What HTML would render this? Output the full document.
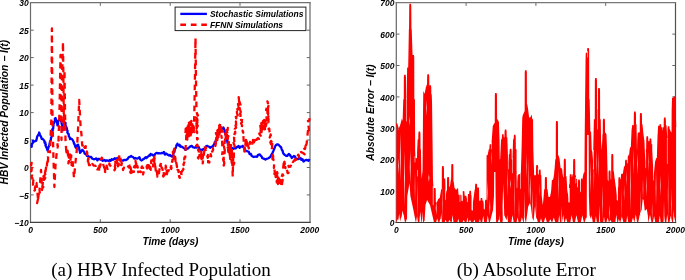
<!DOCTYPE html><html><head><meta charset="utf-8"><title>HBV simulations</title>
<style>html,body{margin:0;padding:0;background:#fff}svg{display:block}text{font-family:"Liberation Sans",Arial,sans-serif;fill:#000}.t{font-size:8.5px;font-weight:bold;font-style:italic}.l{font-size:10.1px;font-weight:bold;font-style:italic}.c{font-family:"Liberation Serif","Times New Roman",serif;font-size:19px}</style></head><body>
<svg width="685" height="280" viewBox="0 0 685 280">
<rect width="685" height="280" fill="#fff"/>
<g id="left">
<path d="M100.3 222.4v-3.2M100.3 2.7v3.2M170.2 222.4v-3.2M170.2 2.7v3.2M240.0 222.4v-3.2M240.0 2.7v3.2M30.5 30.2h3.2M310.0 30.2h-3.2M30.5 57.6h3.2M310.0 57.6h-3.2M30.5 85.1h3.2M310.0 85.1h-3.2M30.5 112.6h3.2M310.0 112.6h-3.2M30.5 140.0h3.2M310.0 140.0h-3.2M30.5 167.5h3.2M310.0 167.5h-3.2M30.5 194.9h3.2M310.0 194.9h-3.2" stroke="#555" stroke-width="0.9" fill="none"/>
<path d="M30.50 2.1V223.0" stroke="#6a6a6a" stroke-width="1.2"/>
<path d="M310.00 2.1V223.0" stroke="#666" stroke-width="1.2"/>
<path d="M29.9 2.70H310.6" stroke="#707070" stroke-width="1.2"/>
<path d="M29.9 222.40H310.6" stroke="#404040" stroke-width="1.2"/>
<path d="M31.0 147.5 L31.7 146.8 L31.7 145.1 L31.8 145.1 L32.0 143.7 L32.7 143.3 L32.8 142.5 L33.1 140.7 L34.5 141.5 L36.2 140.7 L36.5 139.7 L36.9 137.9 L37.2 136.5 L37.6 136.0 L38.1 135.2 L39.0 133.4 L39.2 132.5 L39.5 133.7 L40.0 134.9 L40.5 136.0 L41.0 136.7 L41.7 138.8 L42.3 138.6 L43.4 139.7 L44.3 140.7 L44.6 142.8 L45.3 142.3 L45.2 142.8 L45.9 144.9 L45.4 145.0 L46.1 146.9 L46.5 147.3 L46.8 148.6 L47.3 149.2 L47.4 150.4 L47.8 150.1 L48.3 148.0 L48.4 147.4 L49.0 146.0 L49.5 144.7 L49.5 143.8 L49.9 142.9 L49.9 141.8 L50.5 140.7 L50.7 140.6 L51.0 138.0 L51.1 137.6 L51.6 136.9 L51.7 135.6 L51.5 135.4 L51.9 132.8 L52.0 132.0 L52.2 129.9 L52.7 130.5 L52.4 129.0 L53.1 128.8 L53.3 126.8 L53.5 125.3 L53.6 123.3 L54.4 122.6 L54.4 121.8 L54.8 121.1 L55.0 120.5 L54.8 118.5 L55.6 118.2 L55.9 119.3 L56.2 120.9 L56.5 120.9 L56.6 121.4 L57.1 122.7 L57.4 125.4 L57.6 125.3 L57.9 124.9 L58.1 123.3 L58.0 122.0 L58.5 120.4 L59.0 120.0 L59.5 119.5 L60.1 118.8 L60.3 117.2 L60.7 118.2 L60.8 120.6 L61.0 121.3 L61.3 121.0 L61.5 123.0 L61.7 123.6 L61.9 124.9 L62.4 125.0 L62.1 128.0 L62.4 127.8 L62.6 129.7 L62.7 130.4 L62.6 129.6 L63.4 127.8 L63.2 127.5 L63.5 125.9 L64.2 124.8 L64.5 124.2 L64.3 123.4 L64.8 122.3 L65.6 123.1 L65.4 124.2 L65.9 126.5 L66.3 127.0 L66.8 128.1 L66.9 128.2 L66.9 129.7 L67.6 130.9 L67.3 132.3 L67.9 133.5 L68.7 134.0 L68.8 136.4 L69.5 137.0 L70.1 139.2 L70.9 138.6 L71.9 139.0 L73.0 140.7 L73.8 142.3 L73.9 143.5 L74.5 144.0 L74.6 144.6 L75.1 145.9 L75.4 147.0 L76.0 147.8 L76.6 146.5 L77.2 145.1 L78.1 144.7 L78.2 145.2 L78.6 147.1 L78.9 147.0 L79.3 149.0 L79.3 149.7 L79.6 150.5 L79.9 152.2 L80.1 152.9 L80.9 151.8 L81.5 151.0 L82.2 149.9 L82.8 150.2 L83.3 150.9 L84.4 152.4 L84.6 153.7 L85.2 153.9 L86.2 154.4 L87.0 155.9 L87.7 155.7 L88.4 156.2 L89.3 157.0 L90.3 157.0 L91.1 156.8 L92.2 158.7 L93.4 159.0 L94.2 159.3 L95.5 158.8 L96.3 158.4 L97.4 160.4 L98.5 159.0 L99.4 158.9 L100.6 159.7 L101.6 160.0 L102.8 160.8 L103.6 160.3 L104.4 160.0 L105.7 161.0 L106.8 160.3 L107.8 160.6 L108.7 160.8 L109.7 160.0 L110.6 160.9 L111.7 159.1 L112.8 159.9 L113.8 159.0 L114.9 158.3 L115.8 159.1 L117.1 158.1 L117.9 158.0 L119.1 159.2 L120.0 158.9 L121.0 160.0 L121.7 160.2 L123.0 160.7 L124.4 159.8 L124.9 160.1 L126.0 160.0 L127.0 159.3 L127.7 159.1 L128.5 157.5 L129.3 156.9 L130.3 156.7 L131.2 156.0 L131.8 156.7 L132.7 156.8 L133.7 157.8 L134.3 158.6 L135.4 157.9 L136.1 158.3 L137.4 158.6 L138.4 158.0 L139.5 157.3 L140.3 159.5 L141.4 160.5 L142.4 160.0 L143.5 158.9 L144.2 158.8 L145.5 157.3 L146.5 158.0 L147.4 156.8 L148.1 156.6 L149.3 155.2 L149.9 155.7 L150.6 153.9 L151.5 154.4 L152.9 155.1 L153.7 156.0 L154.4 155.5 L155.2 153.8 L156.0 153.2 L156.7 152.9 L157.9 153.4 L158.7 153.2 L160.1 153.3 L160.8 153.3 L161.6 153.0 L162.9 153.2 L163.9 151.9 L164.9 154.6 L166.0 153.5 L167.1 154.2 L168.2 155.0 L169.1 155.6 L169.9 155.0 L171.2 156.1 L172.3 156.6 L173.0 155.3 L173.2 155.1 L173.5 153.4 L173.8 152.6 L174.3 152.1 L174.6 150.9 L174.8 149.0 L175.3 148.8 L175.7 148.0 L176.2 146.3 L176.4 145.2 L176.9 145.2 L177.4 143.7 L178.2 145.3 L179.1 145.7 L179.6 144.8 L180.4 146.8 L181.4 146.4 L182.7 147.4 L183.5 147.8 L184.8 148.8 L185.5 149.9 L186.5 148.9 L187.7 148.6 L188.6 147.8 L189.5 147.1 L190.4 146.3 L191.7 145.8 L192.8 147.2 L193.7 147.4 L194.7 147.8 L195.7 147.1 L196.6 147.6 L197.8 146.8 L198.8 147.1 L199.4 149.2 L200.2 149.4 L200.9 149.9 L201.8 150.3 L203.0 149.2 L203.9 148.8 L204.6 148.9 L205.4 147.4 L206.1 146.2 L207.0 145.8 L208.2 146.5 L209.0 146.7 L210.1 147.8 L211.2 146.9 L211.9 146.9 L213.1 145.8 L213.6 145.0 L214.2 144.2 L214.8 142.1 L215.4 141.7 L216.2 140.7 L216.6 139.8 L217.0 138.7 L217.2 138.1 L217.7 136.6 L218.2 134.4 L218.4 134.1 L218.9 133.3 L219.3 132.5 L220.4 131.6 L221.3 130.4 L222.1 129.0 L222.6 128.6 L223.4 127.4 L223.9 128.4 L224.2 129.7 L224.5 130.5 L224.8 132.7 L225.0 132.5 L225.5 132.6 L225.3 134.2 L225.8 134.3 L226.1 137.2 L226.4 137.4 L226.3 138.6 L226.7 139.7 L227.0 140.7 L227.4 140.5 L227.4 142.7 L228.1 143.4 L228.7 144.3 L229.0 145.7 L230.0 147.0 L230.5 147.8 L231.2 147.5 L232.4 148.1 L233.6 148.8 L234.6 148.2 L235.7 148.4 L236.6 146.8 L237.7 147.0 L238.5 145.9 L239.7 147.8 L240.7 146.6 L241.8 146.6 L242.8 145.8 L243.3 147.3 L244.0 148.0 L244.7 148.9 L245.2 149.7 L245.8 150.9 L247.0 151.2 L247.9 151.5 L248.9 151.9 L249.6 154.1 L250.3 153.8 L250.9 153.8 L251.5 155.6 L252.0 156.0 L253.2 156.7 L253.9 157.0 L255.0 156.7 L256.1 156.6 L257.1 156.8 L258.1 154.9 L259.3 154.5 L260.1 154.6 L260.4 155.5 L261.7 156.7 L262.2 158.0 L263.1 158.4 L264.3 158.9 L265.4 159.6 L266.3 159.0 L267.2 158.7 L268.4 158.2 L269.4 157.5 L270.4 157.0 L271.0 155.3 L271.5 155.0 L271.9 153.9 L272.5 153.1 L273.0 151.7 L273.4 150.9 L273.9 149.5 L274.0 148.9 L274.5 148.5 L274.9 146.9 L275.5 145.8 L276.6 144.5 L277.2 144.3 L278.5 144.7 L279.3 145.6 L280.6 146.8 L281.3 147.7 L281.5 148.6 L282.0 150.1 L282.6 150.8 L282.9 151.8 L283.0 152.9 L283.7 153.9 L284.7 154.8 L285.8 155.7 L286.7 156.0 L287.4 155.8 L288.8 153.9 L289.3 154.4 L290.1 155.1 L290.6 156.3 L291.0 156.3 L291.8 158.0 L292.8 157.0 L293.9 156.0 L294.7 156.4 L295.3 157.3 L296.1 159.2 L297.0 159.0 L298.1 159.0 L298.9 158.9 L300.0 158.0 L300.9 158.3 L301.4 159.9 L302.5 159.2 L303.5 161.5 L304.7 160.5 L306.0 160.0 L307.0 159.9 L308.5 160.8 L309.5 159.0" fill="none" stroke="#0000ff" stroke-width="2.3" stroke-linejoin="round"/>
<path d="M31.0 162.0 L31.7 163.3 L31.7 162.8 L31.1 165.1 L31.4 170.0 L31.8 167.8 L31.5 171.0 L31.1 171.3 L31.5 170.8 L31.0 170.4 L31.8 171.1 L32.0 175.0 L31.9 175.8 L31.5 177.3 L32.5 178.2 L32.0 180.7 L31.5 179.9 L31.5 180.8 L33.3 180.4 L33.3 180.1 L33.0 185.0 L33.3 186.8 L34.3 188.3 L34.4 190.5 L35.0 190.0 L34.9 187.8 L35.5 186.0 L36.3 185.2 L35.4 182.2 L35.2 182.5 L36.5 183.0 L38.2 201.0 L37.1 203.1 L38.2 198.3 L37.6 200.5 L38.3 198.4 L38.5 195.2 L38.4 195.5 L39.3 193.2 L38.0 195.3 L39.9 193.7 L39.5 190.0 L41.0 170.0 L42.0 190.0 L42.4 188.1 L43.3 187.0 L42.6 187.0 L42.8 185.2 L42.7 184.1 L42.4 186.8 L43.5 176.1 L44.0 180.9 L44.0 180.0 L44.1 178.6 L44.9 178.4 L44.4 176.0 L45.0 178.9 L46.1 172.9 L44.8 174.8 L45.4 170.4 L44.9 169.9 L45.4 168.0 L45.6 171.0 L46.0 168.0 L46.6 164.4 L47.0 165.8 L46.8 166.6 L47.1 163.2 L47.8 160.4 L47.8 163.5 L48.0 160.0 L48.1 158.5 L48.0 156.5 L48.2 156.0 L48.1 154.8 L49.1 155.0 L48.2 151.4 L50.1 152.2 L49.5 149.9 L50.0 150.0 L51.3 120.0 L51.9 28.4 L52.5 120.0 L53.5 160.0 L54.4 187.0 L55.5 165.0 L57.0 150.0 L57.5 147.9 L57.8 146.2 L58.0 146.2 L57.5 145.6 L57.5 141.9 L58.3 142.9 L57.8 142.6 L58.8 141.8 L58.5 140.0 L59.5 110.0 L60.5 55.0 L61.2 100.0 L61.5 140.0 L62.0 80.0 L63.0 42.0 L63.5 90.0 L64.0 130.0 L64.5 70.0 L65.0 110.0 L65.5 140.0 L66.5 155.0 L66.4 153.6 L67.2 152.0 L66.5 152.4 L66.9 151.0 L68.0 147.9 L67.5 148.0 L68.5 163.0 L68.3 163.3 L69.1 160.9 L68.9 158.6 L68.2 159.7 L69.6 158.1 L68.7 157.3 L69.1 155.8 L70.0 155.2 L69.5 153.5 L70.0 152.0 L70.6 152.2 L70.5 152.8 L70.3 156.4 L70.6 160.8 L69.7 161.6 L71.3 155.3 L70.8 161.4 L70.1 161.4 L70.7 161.6 L71.8 163.4 L71.5 165.0 L71.9 163.8 L71.8 161.3 L72.1 161.4 L72.5 160.0 L74.0 178.0 L75.5 162.0 L77.0 148.0 L78.0 130.0 L79.2 100.0 L80.5 125.0 L82.0 140.0 L82.0 143.4 L82.3 145.6 L82.8 145.4 L83.7 147.6 L84.0 146.0 L84.8 147.9 L84.3 147.3 L85.8 146.2 L85.3 149.6 L86.0 152.0 L87.3 153.1 L86.8 151.4 L87.3 154.8 L87.1 153.6 L88.5 159.3 L88.0 159.0 L87.8 162.9 L88.4 161.6 L88.0 160.4 L89.1 165.2 L89.9 164.9 L89.5 166.4 L90.7 163.9 L91.4 164.8 L92.4 164.0 L93.6 165.6 L94.6 165.6 L95.8 165.8 L96.8 165.0 L97.1 169.4 L98.0 169.0 L98.5 167.8 L99.2 168.1 L99.0 170.7 L99.0 168.2 L99.9 168.9 L100.1 168.7 L99.4 165.7 L100.3 165.8 L100.8 162.1 L100.1 162.8 L100.1 162.1 L101.2 158.7 L101.2 159.0 L101.7 157.6 L102.5 159.1 L102.6 161.4 L102.8 161.2 L103.4 165.0 L104.2 167.8 L105.0 164.2 L104.9 169.9 L105.2 172.0 L106.3 170.7 L107.3 169.5 L107.8 170.8 L106.7 165.7 L107.3 167.2 L107.8 165.3 L109.3 166.2 L109.3 163.4 L110.0 165.5 L110.6 165.9 L111.5 167.0 L112.7 168.8 L113.7 169.3 L113.8 168.9 L114.5 170.2 L115.3 168.2 L114.1 163.2 L115.1 165.7 L115.5 162.6 L115.3 161.5 L116.0 160.0 L116.6 159.0 L115.6 160.2 L117.2 162.9 L116.9 159.8 L117.9 164.0 L118.5 165.2 L118.0 166.4 L117.7 165.3 L118.8 163.1 L119.0 162.1 L119.1 163.7 L118.9 162.6 L118.9 159.8 L118.6 157.7 L119.1 156.7 L119.9 154.1 L120.0 155.4 L120.0 157.4 L120.9 160.1 L120.3 160.8 L121.0 157.7 L121.3 161.9 L121.8 163.3 L121.7 163.3 L121.5 165.0 L120.7 164.7 L123.0 166.7 L123.1 165.9 L123.0 170.0 L123.8 167.7 L125.0 167.8 L126.3 168.6 L127.3 169.3 L128.1 166.4 L129.2 167.6 L129.5 165.6 L130.6 165.5 L131.3 171.2 L130.4 166.8 L130.8 167.1 L130.3 172.4 L131.2 170.0 L131.0 174.9 L131.7 175.0 L130.9 173.4 L132.7 171.5 L133.9 171.8 L132.4 168.5 L134.0 169.3 L133.9 169.0 L134.7 167.6 L135.3 167.0 L133.9 167.2 L135.9 163.7 L135.5 162.0 L135.0 161.5 L135.4 160.5 L136.2 164.4 L136.4 162.4 L135.9 161.8 L136.5 166.8 L136.8 166.4 L137.3 165.8 L138.1 169.3 L137.6 171.5 L137.9 170.2 L138.3 172.2 L140.1 171.5 L140.5 171.5 L141.6 172.9 L141.1 169.6 L141.4 169.2 L142.0 166.4 L141.4 167.9 L143.2 167.9 L141.9 168.0 L143.8 170.5 L143.0 174.4 L143.4 173.0 L144.1 171.0 L144.9 169.0 L145.6 169.3 L147.0 168.5 L146.6 166.7 L147.6 165.0 L147.6 163.2 L148.5 163.4 L149.7 166.2 L148.8 165.3 L149.1 167.9 L150.2 166.9 L149.4 167.7 L150.0 170.7 L149.7 168.4 L150.6 168.0 L150.8 169.8 L150.0 166.2 L150.4 164.9 L151.5 163.7 L151.1 163.1 L151.3 160.4 L151.5 160.5 L151.3 161.9 L152.5 162.0 L152.2 161.2 L153.5 163.2 L153.0 166.4 L153.4 166.3 L153.4 164.8 L152.5 163.4 L153.7 162.2 L154.0 158.2 L152.9 160.6 L153.6 157.5 L154.1 156.3 L154.0 156.0 L154.0 155.0 L154.6 158.6 L154.3 159.5 L153.5 161.7 L154.5 163.2 L154.6 160.6 L153.9 160.8 L155.1 165.0 L154.9 165.6 L155.1 168.6 L155.3 166.3 L156.0 172.6 L155.7 169.8 L156.3 170.1 L157.2 173.8 L157.0 176.2 L156.6 174.3 L157.3 176.6 L157.1 171.5 L157.9 174.9 L157.7 173.6 L158.9 173.3 L159.3 170.6 L159.5 169.3 L159.5 164.3 L160.9 165.3 L160.0 165.3 L160.0 165.9 L160.4 165.6 L161.0 162.0 L160.8 163.1 L160.4 165.8 L161.3 166.8 L161.4 167.0 L162.3 168.5 L162.5 169.3 L162.8 171.4 L163.4 172.5 L162.4 171.9 L163.5 171.5 L163.9 174.1 L163.0 175.9 L164.7 178.5 L163.9 178.0 L163.6 176.6 L164.7 174.3 L164.2 173.6 L164.6 174.7 L164.4 172.6 L165.0 170.2 L165.3 170.4 L165.4 168.1 L165.4 168.7 L166.1 167.7 L165.7 165.6 L165.9 167.1 L166.2 166.3 L166.1 168.9 L166.7 168.8 L166.8 175.7 L167.0 172.7 L166.9 173.7 L167.5 171.6 L167.6 170.4 L168.6 170.8 L169.0 169.3 L169.3 170.2 L170.5 171.5 L170.1 170.8 L170.7 170.4 L171.5 167.9 L170.6 167.7 L171.6 165.1 L170.4 162.5 L171.8 163.1 L172.0 162.0 L172.2 161.6 L172.4 160.0 L172.6 161.0 L172.3 158.5 L172.5 158.4 L171.6 156.7 L172.8 154.7 L173.6 152.4 L173.0 152.8 L174.1 150.1 L173.6 151.2 L173.4 148.8 L174.2 148.6 L173.4 151.9 L172.8 151.9 L173.2 154.3 L173.6 155.7 L174.1 154.3 L173.5 156.9 L174.4 157.5 L173.5 158.3 L173.8 159.4 L174.4 159.9 L174.5 162.0 L174.6 160.7 L175.1 156.8 L175.0 158.1 L176.4 157.5 L175.6 156.0 L174.9 154.9 L175.4 159.5 L175.5 161.5 L176.5 159.6 L176.5 163.1 L176.3 163.4 L176.4 163.0 L177.0 167.0 L176.9 166.0 L177.5 168.5 L176.9 168.0 L177.1 169.3 L178.7 171.0 L178.4 172.0 L178.5 170.1 L177.8 171.5 L178.6 173.9 L179.2 176.5 L179.3 177.3 L179.5 176.4 L180.2 179.1 L181.4 174.6 L180.8 172.2 L181.8 175.2 L182.2 175.0 L183.3 174.4 L182.0 171.0 L181.7 171.9 L183.4 169.2 L183.1 168.7 L182.6 169.5 L183.0 167.7 L183.4 164.3 L183.7 165.0 L183.7 163.7 L184.7 161.4 L184.7 163.2 L184.2 159.9 L184.4 157.5 L185.2 157.6 L186.0 140.0 L186.5 139.2 L186.1 139.1 L186.3 135.8 L186.5 135.4 L186.0 136.5 L185.3 136.3 L185.7 128.6 L186.4 128.7 L186.2 132.7 L186.6 128.0 L186.5 131.0 L186.2 130.5 L186.8 135.2 L188.0 131.4 L187.1 133.9 L186.6 134.4 L187.0 133.4 L187.3 139.6 L187.2 138.0 L187.8 136.5 L188.0 134.0 L187.0 134.4 L187.7 134.3 L187.6 131.4 L188.3 132.4 L186.3 128.2 L187.5 131.8 L188.0 126.5 L187.8 126.0 L188.4 126.4 L187.8 126.1 L188.8 127.2 L188.6 130.0 L187.5 133.9 L188.6 132.3 L188.2 133.9 L188.8 136.3 L188.4 136.0 L188.4 133.8 L188.6 134.7 L188.0 132.7 L188.5 134.2 L188.7 130.5 L188.8 129.0 L189.0 126.3 L189.0 128.6 L189.1 126.6 L189.9 124.2 L189.0 123.0 L189.3 123.0 L189.3 126.9 L188.6 124.5 L188.8 130.0 L189.6 128.5 L188.5 129.8 L189.4 127.5 L189.3 130.5 L189.6 133.1 L189.6 134.0 L188.8 130.6 L189.5 133.3 L188.9 128.5 L189.4 130.2 L190.4 126.4 L190.2 127.0 L190.6 126.4 L188.9 122.7 L190.3 122.0 L191.0 121.5 L190.1 122.1 L190.7 120.4 L190.7 122.5 L191.4 121.9 L191.4 121.0 L189.9 126.8 L190.9 125.8 L190.7 125.4 L191.1 127.0 L190.0 128.6 L191.6 132.7 L191.7 130.4 L191.3 133.0 L190.6 135.3 L191.2 130.1 L191.4 130.6 L192.2 126.1 L192.0 126.8 L191.4 130.1 L192.3 124.4 L191.9 124.0 L192.3 125.0 L193.5 126.3 L192.3 128.5 L192.4 128.8 L192.2 126.9 L191.8 132.1 L192.5 132.0 L192.6 130.9 L194.0 128.7 L193.0 129.6 L193.0 125.9 L193.1 126.0 L193.2 126.7 L194.7 128.9 L194.4 132.0 L193.7 131.0 L194.3 115.0 L194.9 80.0 L195.5 38.2 L196.0 80.0 L196.5 112.0 L197.9 115.5 L195.8 113.2 L196.6 115.9 L196.1 116.8 L197.2 119.1 L196.2 119.5 L196.2 122.3 L196.4 120.9 L197.2 118.8 L196.5 123.6 L196.2 125.0 L196.6 124.3 L197.5 120.2 L197.0 122.2 L197.0 120.0 L196.4 126.5 L197.0 123.6 L198.0 121.0 L197.1 122.1 L197.2 125.8 L197.8 125.5 L196.5 128.7 L197.3 127.4 L197.4 128.7 L196.9 132.4 L197.2 133.0 L196.6 130.8 L197.0 135.9 L197.1 139.5 L197.7 138.2 L197.6 138.8 L197.4 141.5 L197.4 141.5 L197.6 142.0 L197.7 146.6 L196.2 145.7 L197.2 144.6 L197.6 146.6 L197.7 145.9 L198.5 150.3 L198.0 150.0 L198.7 150.2 L198.6 151.2 L198.9 151.9 L198.4 158.5 L197.9 157.7 L200.1 155.7 L199.1 157.8 L199.0 159.0 L199.4 155.0 L200.4 155.2 L201.5 154.5 L200.7 152.3 L200.7 149.5 L201.3 151.7 L201.4 154.9 L201.8 151.8 L201.9 156.8 L201.1 158.1 L202.4 160.7 L203.1 155.1 L202.5 159.1 L202.1 157.7 L203.0 159.1 L202.7 163.4 L205.0 145.9 L204.8 146.7 L206.0 147.7 L206.0 148.2 L205.1 148.8 L206.0 151.2 L206.4 153.2 L207.2 154.6 L206.9 154.7 L207.7 157.8 L208.0 157.5 L207.9 155.0 L208.4 157.1 L208.1 162.4 L209.3 162.0 L209.3 162.5 L209.7 159.5 L209.9 160.0 L210.7 154.2 L211.2 156.5 L210.6 156.7 L211.5 154.6 L211.8 153.9 L212.1 152.3 L212.0 151.9 L213.1 150.0 L212.8 147.4 L212.6 146.4 L213.5 146.3 L213.7 145.9 L214.4 147.5 L215.5 145.6 L216.0 143.0 L214.5 142.0 L216.2 141.0 L216.3 137.9 L215.7 141.0 L216.8 136.5 L215.9 133.2 L217.0 135.6 L216.6 134.0 L217.1 137.3 L217.0 140.3 L216.9 135.4 L217.3 139.9 L217.2 140.0 L217.5 135.6 L217.2 136.4 L217.3 139.2 L217.4 134.4 L218.6 133.3 L218.1 134.7 L217.3 131.1 L216.6 131.5 L217.8 130.0 L217.2 132.9 L218.2 132.5 L218.3 132.2 L219.2 135.9 L219.2 136.5 L218.4 137.0 L218.4 136.7 L218.3 136.2 L218.9 133.9 L218.8 134.4 L219.4 128.9 L218.7 130.5 L219.2 127.8 L219.0 128.0 L219.5 129.8 L220.0 130.2 L219.6 131.2 L220.0 133.1 L219.6 134.0 L219.5 131.7 L219.4 131.4 L219.2 129.6 L220.6 130.8 L220.3 126.8 L219.6 125.4 L220.1 125.7 L219.1 125.9 L220.2 124.0 L220.3 122.9 L221.4 125.8 L220.1 126.9 L219.1 130.5 L221.9 126.4 L220.6 129.6 L220.2 131.5 L220.1 132.6 L220.8 134.0 L221.3 134.4 L220.6 132.7 L220.9 127.1 L221.5 127.3 L221.4 128.0 L221.0 126.4 L221.7 130.4 L221.0 131.5 L222.7 131.3 L221.3 135.1 L221.7 137.9 L221.4 135.8 L222.0 139.4 L222.0 138.0 L222.5 153.0 L222.1 154.1 L222.8 153.2 L223.6 156.6 L222.7 156.3 L223.4 160.7 L223.8 159.0 L223.7 162.2 L223.8 163.2 L223.3 163.1 L223.5 165.0 L223.8 165.6 L224.3 163.2 L224.0 161.8 L223.7 156.5 L223.6 160.4 L224.3 157.3 L224.7 156.4 L224.3 156.2 L224.3 156.0 L224.6 153.0 L224.8 150.6 L224.6 151.7 L224.4 147.6 L225.1 148.6 L224.7 150.1 L223.7 145.5 L225.3 146.9 L224.5 143.5 L225.3 137.9 L225.7 139.8 L225.0 140.0 L225.7 140.1 L225.8 137.4 L226.0 134.1 L224.7 135.3 L224.9 133.5 L225.5 133.0 L225.2 134.6 L225.5 133.2 L225.9 136.2 L226.5 139.0 L226.0 139.0 L226.9 138.6 L226.1 132.5 L225.5 137.2 L226.4 134.1 L226.0 130.7 L226.2 133.3 L227.6 133.7 L226.5 130.0 L226.0 131.0 L226.4 132.3 L226.5 131.1 L226.6 133.9 L227.5 137.4 L227.0 137.0 L226.9 136.4 L227.2 135.2 L226.7 133.6 L227.3 132.0 L227.8 127.9 L227.2 133.3 L227.5 135.4 L228.4 136.1 L227.8 137.9 L227.8 137.4 L227.9 140.0 L227.9 142.0 L227.5 142.9 L227.5 144.2 L227.7 144.1 L228.7 146.3 L227.7 147.7 L228.7 148.6 L228.5 150.8 L228.0 148.9 L228.3 152.0 L228.1 149.7 L228.4 150.2 L228.8 148.1 L228.4 146.3 L227.9 146.6 L227.9 143.9 L228.6 142.4 L228.9 142.9 L228.8 142.0 L229.3 156.0 L228.8 155.4 L230.1 156.9 L229.1 150.6 L229.6 150.7 L229.6 151.5 L231.1 145.0 L230.1 149.7 L229.8 145.8 L229.8 146.0 L230.3 162.0 L230.9 148.0 L230.7 150.8 L231.0 152.3 L231.1 154.3 L230.3 155.3 L231.4 156.4 L231.7 154.6 L231.7 155.9 L231.8 159.2 L232.0 162.5 L231.4 160.0 L231.8 163.1 L231.7 158.0 L230.9 156.6 L231.0 155.8 L231.5 154.0 L231.2 152.4 L231.8 152.4 L232.2 153.4 L231.9 150.0 L232.7 176.6 L233.2 158.0 L233.0 160.8 L232.7 159.8 L233.8 160.0 L233.4 162.3 L234.3 162.9 L233.6 165.0 L234.0 148.0 L234.6 146.7 L234.6 145.6 L233.5 142.8 L234.0 145.1 L234.7 142.5 L234.4 142.1 L234.0 137.7 L234.7 138.6 L234.6 138.2 L234.5 134.9 L234.5 135.0 L234.2 135.5 L235.2 131.7 L235.1 134.1 L234.6 130.3 L234.8 128.9 L235.7 128.1 L236.1 127.5 L235.0 123.8 L236.3 126.7 L235.9 121.5 L236.0 122.0 L236.1 119.0 L236.8 120.1 L235.8 116.8 L236.4 118.2 L236.2 118.4 L235.5 113.7 L237.7 115.5 L237.0 113.1 L236.7 107.8 L237.5 110.0 L238.6 107.9 L237.4 109.2 L238.1 107.2 L237.5 106.2 L238.6 103.4 L238.0 104.1 L238.4 105.9 L238.8 99.9 L238.4 100.8 L239.1 101.3 L238.7 97.1 L239.2 98.4 L238.8 100.7 L238.8 102.0 L239.5 101.6 L239.1 101.1 L239.8 102.7 L240.5 104.6 L239.3 109.4 L239.8 108.0 L239.7 109.5 L240.4 110.4 L241.3 114.1 L239.6 115.9 L240.3 113.2 L240.6 114.7 L240.4 117.5 L242.0 116.6 L242.0 120.0 L241.0 120.0 L241.9 120.2 L242.0 125.1 L241.8 122.1 L241.1 123.2 L242.1 125.6 L241.9 126.3 L241.8 128.9 L242.7 129.6 L242.5 130.0 L242.9 132.3 L242.6 130.6 L243.3 132.7 L243.1 131.6 L243.5 133.0 L243.4 136.0 L243.5 138.0 L244.5 154.0 L245.5 154.4 L244.8 150.1 L244.7 147.3 L245.3 148.3 L245.1 148.1 L245.0 145.3 L245.3 146.0 L245.5 142.9 L245.7 140.9 L247.0 144.3 L246.5 143.8 L246.0 140.0 L247.1 142.6 L246.7 142.5 L246.5 140.6 L247.0 145.0 L246.5 145.6 L247.6 142.9 L248.0 141.0 L248.4 141.6 L247.8 143.5 L247.7 144.5 L248.8 148.4 L249.0 147.0 L248.8 147.3 L250.0 147.6 L249.9 143.9 L250.0 142.0 L250.0 144.0 L250.6 144.5 L251.0 146.0 L252.3 145.2 L252.0 143.0 L252.6 143.5 L253.0 140.0 L253.2 142.4 L252.9 141.9 L254.0 144.0 L253.7 140.6 L254.6 141.2 L255.0 140.0 L256.1 142.3 L256.0 143.0 L256.3 142.8 L256.5 139.6 L257.0 139.0 L258.0 138.0 L259.0 139.0 L258.9 138.7 L259.6 133.8 L260.0 135.0 L260.7 135.7 L259.2 133.8 L260.6 131.4 L261.2 132.4 L260.6 127.8 L260.3 125.6 L260.9 126.5 L260.6 126.0 L259.8 127.5 L261.0 128.1 L260.5 132.0 L260.7 129.2 L261.0 133.6 L261.2 133.0 L261.5 132.1 L261.9 129.4 L262.3 127.0 L261.0 127.5 L260.9 126.3 L261.2 124.9 L261.5 123.3 L261.4 124.7 L261.3 123.4 L261.8 122.0 L261.7 123.5 L262.0 122.5 L261.7 125.2 L262.4 126.5 L262.0 125.6 L262.3 129.9 L262.4 130.0 L263.7 130.2 L262.7 125.6 L263.4 126.0 L262.0 126.5 L262.8 126.2 L262.9 122.7 L262.5 122.5 L263.0 121.0 L263.8 121.5 L262.9 121.6 L262.8 125.7 L263.5 125.2 L263.3 125.2 L263.4 126.3 L263.6 129.0 L263.7 128.3 L263.9 127.2 L263.3 127.0 L264.7 124.7 L263.8 123.0 L263.7 122.3 L264.1 122.1 L264.2 120.0 L264.7 120.9 L263.7 124.3 L264.3 122.6 L264.9 122.2 L265.0 129.3 L263.7 129.0 L264.8 128.0 L264.2 126.1 L264.9 127.0 L265.3 124.2 L266.0 124.6 L265.8 124.5 L265.4 121.0 L266.2 119.4 L264.9 123.6 L265.6 124.9 L266.4 125.6 L266.0 127.0 L266.4 123.6 L265.6 126.7 L265.9 125.9 L266.8 121.2 L265.5 121.3 L266.9 119.1 L266.6 119.0 L266.5 116.9 L266.8 116.7 L266.4 114.3 L267.6 115.1 L267.3 108.9 L267.2 112.0 L266.8 112.6 L266.6 112.2 L268.2 110.2 L266.1 110.1 L267.1 106.5 L268.4 105.9 L268.6 104.8 L267.8 103.0 L267.4 101.3 L268.2 104.4 L267.5 108.4 L268.5 105.9 L268.3 106.4 L268.1 108.4 L268.0 114.4 L268.2 112.0 L267.8 113.2 L269.1 115.2 L267.7 116.5 L269.2 117.2 L268.4 116.1 L268.2 117.3 L268.6 120.0 L268.0 119.5 L268.7 123.2 L268.3 119.9 L268.4 123.6 L269.0 126.0 L269.0 127.5 L268.6 129.1 L269.2 128.5 L269.5 131.0 L269.5 131.6 L269.8 132.2 L269.7 137.5 L270.3 136.0 L270.6 134.4 L271.1 136.9 L271.7 141.5 L271.0 141.0 L270.3 142.4 L271.8 146.1 L271.5 146.7 L271.7 145.1 L272.3 143.7 L272.0 148.0 L271.8 148.2 L271.9 151.0 L272.1 153.0 L273.2 156.8 L272.9 155.2 L272.6 155.3 L272.8 153.2 L272.9 156.3 L272.4 159.0 L273.5 160.0 L273.3 159.0 L274.3 161.5 L273.9 168.0 L274.1 165.7 L275.1 166.2 L274.7 167.2 L274.5 168.0 L274.4 169.2 L274.8 172.1 L274.4 173.9 L276.0 173.2 L275.5 172.5 L275.7 177.2 L275.5 174.4 L275.5 177.4 L276.0 178.0 L276.3 176.1 L277.3 173.5 L276.6 173.4 L277.5 173.4 L277.0 172.0 L278.1 172.6 L277.6 177.6 L276.6 173.3 L277.6 176.4 L278.1 179.1 L277.6 180.0 L276.7 181.1 L277.0 183.6 L277.5 179.5 L278.0 184.0 L277.6 182.2 L278.5 181.4 L278.8 181.7 L278.9 178.6 L278.9 180.5 L278.2 176.9 L279.5 176.0 L280.8 177.7 L279.8 179.6 L280.8 181.6 L279.8 182.9 L280.9 179.8 L281.0 183.8 L281.0 184.0 L281.6 180.4 L282.0 185.1 L281.8 185.0 L282.7 179.8 L280.8 180.1 L282.3 174.7 L283.2 175.3 L282.5 175.0 L284.0 160.0 L284.9 163.9 L284.3 161.8 L284.5 164.8 L285.0 165.8 L285.1 167.1 L283.8 165.6 L285.5 168.0 L285.3 167.0 L285.8 171.7 L287.3 170.8 L287.5 173.0 L288.3 173.0 L288.9 171.4 L289.0 168.4 L288.5 165.9 L289.0 167.0 L290.3 166.7 L291.0 165.0 L291.3 163.6 L291.2 160.9 L293.0 162.0 L294.8 159.7 L295.0 164.0 L294.6 159.7 L295.7 158.8 L295.9 159.9 L296.5 157.0 L297.0 158.0 L298.2 154.6 L299.0 156.0 L299.0 157.5 L299.7 154.4 L299.8 152.3 L301.0 152.0 L302.0 152.6 L303.0 153.0 L304.7 154.2 L304.6 149.2 L304.2 148.6 L305.0 149.0 L305.6 145.7 L305.7 148.6 L305.8 145.6 L306.6 144.0 L308.0 130.0 L307.5 128.2 L307.2 127.5 L309.0 130.3 L308.3 124.2 L308.7 123.3 L309.7 123.2 L307.9 120.8 L309.2 120.8 L309.6 117.8 L309.3 118.0" fill="none" stroke="#ff0000" stroke-width="2.3" stroke-dasharray="5.7 4.8" stroke-linejoin="round"/>
<text class="t" x="30.5" y="233.2" text-anchor="middle">0</text>
<text class="t" x="100.3" y="233.2" text-anchor="middle">500</text>
<text class="t" x="170.2" y="233.2" text-anchor="middle">1000</text>
<text class="t" x="240.0" y="233.2" text-anchor="middle">1500</text>
<text class="t" x="309.8" y="233.2" text-anchor="middle">2000</text>
<text class="t" x="28.7" y="6.3" text-anchor="end">30</text>
<text class="t" x="28.7" y="33.8" text-anchor="end">25</text>
<text class="t" x="28.7" y="61.2" text-anchor="end">20</text>
<text class="t" x="28.7" y="88.7" text-anchor="end">15</text>
<text class="t" x="28.7" y="116.2" text-anchor="end">10</text>
<text class="t" x="28.7" y="143.6" text-anchor="end">5</text>
<text class="t" x="28.7" y="171.1" text-anchor="end">0</text>
<text class="t" x="28.7" y="198.5" text-anchor="end">−5</text>
<text class="t" x="28.7" y="226.0" text-anchor="end">−10</text>
<text class="l" x="170.5" y="244.6" text-anchor="middle">Time (days)</text>
<text class="l" style="font-size:10.27px" transform="translate(7.6 112.15) rotate(-90)" text-anchor="middle">HBV Infected Population − I(t)</text>
<rect x="175.1" y="7.1" width="130.8" height="23.5" fill="#fff" stroke="#222" stroke-width="1"/>
<path d="M180.3 13.9H206.9" stroke="#0000ff" stroke-width="2.3"/>
<path d="M180.3 24.75H206.9" stroke="#ff0000" stroke-width="2.4" stroke-dasharray="5.7 4.8"/>
<text class="t" x="209.9" y="16.8">Stochastic Simulations</text>
<text class="t" x="209.9" y="27.6">FFNN Simulations</text>
</g>
<g id="right">
<path d="M466.1 222.5v-3.2M466.1 2.7v3.2M535.9 222.5v-3.2M535.9 2.7v3.2M605.7 222.5v-3.2M605.7 2.7v3.2M396.3 34.1h3.2M675.5 34.1h-3.2M396.3 65.5h3.2M675.5 65.5h-3.2M396.3 96.9h3.2M675.5 96.9h-3.2M396.3 128.3h3.2M675.5 128.3h-3.2M396.3 159.7h3.2M675.5 159.7h-3.2M396.3 191.1h3.2M675.5 191.1h-3.2" stroke="#555" stroke-width="0.9" fill="none"/>
<path d="M396.30 2.1V223.1" stroke="#666" stroke-width="1.2"/>
<path d="M675.50 2.1V223.1" stroke="#505050" stroke-width="1.2"/>
<path d="M395.7 2.70H676.1" stroke="#777" stroke-width="1.2"/>
<path d="M395.7 222.50H676.1" stroke="#383838" stroke-width="1.2"/>
<path d="M396.5 123.5 L397.6 127.0 L398.4 133.3 L399.2 133.0 L399.8 128.0 L400.6 126.0 L401.2 124.0 L401.8 121.7 L402.2 124.0 L402.6 124.0 L403.4 120.0 L404.0 100.0 L404.5 100.0 L404.6 76.8 L404.9 74.8 L405.2 76.8 L405.3 100.0 L405.8 100.0 L406.1 121.5 L406.9 121.5 L407.3 100.0 L407.9 67.4 L408.3 70.0 L408.9 70.0 L409.6 30.0 L409.8 30.0 L410.0 5.9 L410.2 3.9 L410.5 5.9 L410.7 30.0 L411.0 30.0 L411.9 58.0 L412.8 58.0 L413.2 55.2 L413.5 57.2 L413.6 100.0 L414.2 100.0 L414.4 150.0 L415.0 163.0 L415.6 163.0 L416.0 158.0 L416.3 160.0 L416.4 172.0 L416.8 172.0 L417.3 177.0 L417.9 150.0 L418.4 140.0 L419.0 140.0 L419.1 133.7 L419.4 131.7 L419.7 133.7 L419.8 150.0 L420.2 150.0 L420.6 172.0 L421.0 179.0 L422.5 179.0 L423.3 170.0 L423.7 120.0 L424.0 94.2 L424.4 95.0 L425.2 95.0 L426.6 87.4 L427.5 85.0 L427.8 85.0 L427.9 76.3 L428.2 74.3 L428.5 76.3 L428.6 88.0 L429.2 88.0 L429.8 88.0 L430.2 85.4 L430.5 87.4 L430.6 95.0 L431.0 95.0 L431.3 103.0 L431.9 150.0 L432.2 179.0 L432.6 186.0 L432.7 205.2 L433.5 205.2 L434.3 205.2 L434.4 190.1 L434.7 188.1 L435.0 190.1 L435.1 203.0 L436.2 203.0 L437.2 203.6 L438.8 199.5 L440.4 198.5 L441.8 190.0 L442.5 190.0 L442.6 168.2 L442.9 166.2 L443.2 168.2 L443.3 180.0 L443.8 180.0 L444.1 180.0 L444.5 178.6 L445.1 200.0 L445.9 200.0 L447.1 191.2 L447.7 191.2 L447.8 179.1 L448.1 177.1 L448.4 179.1 L448.5 189.0 L449.4 189.0 L450.7 186.0 L451.6 180.0 L451.9 180.0 L452.0 166.1 L452.3 164.1 L452.6 166.1 L452.7 182.0 L453.0 182.0 L453.8 188.1 L455.4 190.2 L457.0 190.2 L457.4 189.7 L457.8 195.4 L459.0 195.4 L459.6 202.1 L460.4 202.1 L460.7 194.8 L461.0 196.8 L461.1 201.6 L462.1 201.6 L463.2 201.6 L463.3 193.2 L463.6 191.2 L464.0 196.4 L465.7 196.4 L467.3 202.6 L468.5 194.8 L469.8 194.8 L470.2 190.7 L470.6 196.0 L471.2 196.0 L471.8 210.4 L472.6 210.4 L474.5 196.4 L475.4 190.0 L475.7 190.0 L475.8 185.8 L476.1 183.8 L476.4 185.8 L476.5 190.0 L477.1 190.0 L477.7 190.0 L478.1 187.7 L478.4 189.7 L478.5 201.6 L479.7 201.6 L481.1 201.6 L481.5 198.0 L481.9 201.6 L482.8 201.6 L483.9 209.3 L484.7 209.3 L485.9 200.5 L487.0 200.5 L487.3 200.0 L487.3 156.0 L488.3 155.5 L489.4 150.0 L490.0 150.0 L490.4 144.2 L490.8 150.0 L491.4 150.0 L492.5 140.0 L493.5 126.5 L494.6 124.0 L495.5 124.0 L495.6 95.1 L495.9 93.1 L496.2 95.1 L496.3 120.0 L497.1 120.0 L498.2 122.3 L498.8 140.0 L499.0 160.0 L500.0 160.0 L500.8 161.0 L501.8 140.0 L502.4 140.0 L502.8 134.3 L503.2 138.5 L503.8 138.5 L504.6 138.0 L505.2 138.0 L505.3 131.7 L505.6 129.7 L505.9 131.7 L506.0 138.0 L506.6 138.0 L507.0 150.0 L507.8 169.2 L508.6 169.2 L509.5 155.0 L510.2 155.0 L510.3 150.8 L510.6 148.8 L510.9 150.8 L511.0 160.0 L511.6 160.0 L512.0 173.3 L512.8 173.3 L513.2 160.0 L513.8 140.0 L514.3 140.0 L514.7 134.8 L515.0 136.8 L515.1 150.0 L515.8 150.0 L515.8 170.0 L516.6 188.0 L517.4 188.0 L518.3 176.0 L519.0 175.0 L519.5 175.0 L519.9 174.8 L520.3 189.0 L521.1 189.0 L521.5 176.0 L522.3 150.0 L523.0 118.0 L523.5 115.5 L525.0 112.0 L525.4 112.0 L525.5 72.4 L525.8 70.4 L526.1 72.4 L526.2 105.0 L526.6 105.0 L527.4 109.3 L528.7 120.7 L530.0 118.0 L530.9 118.0 L531.3 117.1 L531.7 120.0 L532.3 120.0 L532.6 150.0 L533.5 178.0 L534.5 176.0 L535.8 176.0 L536.7 176.0 L536.8 167.0 L537.1 165.0 L537.4 167.0 L537.5 175.0 L538.2 175.0 L539.3 175.0 L539.7 169.7 L540.0 171.7 L540.1 176.0 L540.6 176.0 L541.0 196.0 L542.3 207.0 L543.6 205.0 L544.5 195.0 L544.9 190.0 L545.5 190.0 L545.6 179.1 L545.9 177.1 L546.2 179.1 L546.3 190.0 L546.9 190.0 L547.6 197.0 L549.0 197.8 L550.5 198.0 L551.8 192.0 L552.6 180.7 L553.8 180.0 L554.6 176.0 L555.2 170.2 L556.0 160.0 L556.5 160.0 L556.6 123.0 L556.9 121.0 L557.2 123.0 L557.3 156.0 L557.9 156.0 L558.8 158.8 L559.8 168.0 L561.4 169.2 L562.0 175.0 L562.6 178.0 L563.8 178.0 L564.4 178.0 L564.5 160.8 L564.8 158.8 L565.1 160.8 L565.2 177.0 L565.8 177.0 L566.5 190.0 L568.6 202.5 L569.4 202.5 L569.8 185.0 L570.3 185.0 L570.4 176.3 L570.7 174.3 L571.1 178.0 L571.6 178.0 L572.6 178.0 L573.2 175.0 L573.8 175.0 L573.9 161.1 L574.2 159.1 L574.5 161.1 L574.6 176.0 L575.2 176.0 L575.9 184.0 L576.4 179.1 L576.7 181.1 L576.8 187.5 L577.3 187.5 L578.1 187.5 L578.6 187.5 L578.7 181.7 L579.0 179.7 L579.3 181.7 L579.4 192.1 L580.0 192.1 L580.8 192.1 L581.2 192.1 L581.3 182.2 L581.6 180.2 L582.0 181.0 L582.6 181.0 L583.4 178.0 L584.2 173.8 L585.2 172.0 L585.4 140.0 L586.3 60.0 L586.5 52.7 L586.9 58.0 L587.3 58.0 L587.7 58.0 L587.8 50.2 L588.1 48.2 L588.4 50.2 L588.5 100.0 L588.9 100.0 L589.6 131.0 L590.4 133.0 L591.0 150.0 L591.6 152.0 L593.0 169.5 L593.8 169.5 L594.0 150.0 L594.6 120.0 L595.5 120.0 L595.6 80.2 L595.9 78.2 L596.2 80.2 L596.3 110.0 L597.0 110.0 L597.2 129.5 L598.0 129.5 L598.2 110.0 L598.6 110.0 L598.7 90.2 L599.0 88.2 L599.3 90.2 L599.4 120.0 L600.0 120.0 L600.3 140.0 L601.3 154.0 L601.8 155.0 L602.6 150.0 L603.2 135.0 L603.5 135.0 L603.6 120.8 L603.9 118.8 L604.2 120.8 L604.3 133.0 L604.7 133.0 L605.7 134.6 L606.3 150.0 L607.0 180.0 L608.5 183.0 L609.2 183.0 L609.3 172.7 L609.6 170.7 L609.9 172.7 L610.0 183.0 L610.5 183.0 L611.4 180.0 L611.9 180.0 L612.0 156.1 L612.3 154.1 L612.6 156.1 L612.7 172.0 L613.2 172.0 L613.7 177.0 L615.5 190.0 L616.9 200.5 L617.7 200.5 L618.6 188.0 L619.0 188.0 L619.1 179.4 L619.4 177.4 L619.8 180.0 L620.6 180.0 L621.6 180.0 L621.7 175.8 L622.0 173.8 L622.4 176.0 L623.2 176.0 L624.6 167.6 L625.4 166.0 L625.7 166.0 L625.8 161.8 L626.1 159.8 L626.5 164.0 L627.2 164.0 L628.1 164.0 L628.2 159.0 L628.5 157.0 L628.9 158.0 L629.6 158.0 L630.3 150.0 L630.8 147.8 L631.6 147.0 L632.3 130.0 L632.9 125.8 L633.3 126.0 L634.0 126.0 L634.5 126.0 L634.6 113.5 L634.9 111.5 L635.2 113.5 L635.3 125.0 L635.8 125.0 L636.2 150.0 L637.0 152.0 L637.8 150.0 L638.0 140.0 L638.5 133.3 L639.6 133.0 L640.5 133.0 L640.6 115.1 L640.9 113.1 L641.2 115.1 L641.3 125.0 L641.8 125.0 L642.7 134.0 L643.7 141.5 L644.2 154.0 L645.4 168.1 L646.2 168.1 L646.6 150.0 L646.9 150.0 L647.0 138.4 L647.3 136.4 L647.7 142.0 L648.2 142.0 L648.9 146.0 L649.6 142.0 L650.0 142.0 L650.4 138.5 L650.7 140.5 L650.8 145.0 L651.5 145.0 L651.5 150.0 L652.5 170.0 L653.3 180.5 L654.1 180.5 L655.0 170.0 L655.8 162.0 L656.7 158.8 L657.6 158.0 L658.2 138.0 L658.8 126.8 L659.2 127.0 L659.5 127.0 L659.9 127.0 L660.3 124.3 L660.7 128.0 L661.8 128.0 L662.2 135.4 L663.1 135.4 L663.8 128.0 L664.4 128.0 L664.5 119.6 L664.8 117.6 L665.1 119.6 L665.2 126.0 L665.8 126.0 L666.6 140.0 L666.8 164.0 L667.6 164.0 L667.8 140.0 L668.2 140.0 L668.3 128.4 L668.6 126.4 L669.0 130.0 L669.4 130.0 L670.1 131.9 L671.1 133.0 L671.5 150.0 L672.2 150.0 L672.4 110.0 L672.8 97.8 L673.2 100.0 L673.5 100.0 L673.8 100.0 L674.2 96.5 L674.5 98.5 L674.6 110.0 L675.0 110.0 L675.5 127.0 L675.5 222.5 L396.3 222.5 Z" fill="#ff0000" stroke="none"/>
<path d="M396.5 123.5 L397.6 127.0 L398.4 133.3 L399.2 133.0 L399.8 128.0 L400.6 126.0 L401.2 124.0 L401.8 121.7 L402.2 124.0 L402.6 124.0 L403.4 120.0 L404.0 100.0 L404.5 100.0 L404.6 76.8 L404.9 74.8 L405.2 76.8 L405.3 100.0 L405.8 100.0 L406.1 121.5 L406.9 121.5 L407.3 100.0 L407.9 67.4 L408.3 70.0 L408.9 70.0 L409.6 30.0 L409.8 30.0 L410.0 5.9 L410.2 3.9 L410.5 5.9 L410.7 30.0 L411.0 30.0 L411.9 58.0 L412.8 58.0 L413.2 55.2 L413.5 57.2 L413.6 100.0 L414.2 100.0 L414.4 150.0 L415.0 163.0 L415.6 163.0 L416.0 158.0 L416.3 160.0 L416.4 172.0 L416.8 172.0 L417.3 177.0 L417.9 150.0 L418.4 140.0 L419.0 140.0 L419.1 133.7 L419.4 131.7 L419.7 133.7 L419.8 150.0 L420.2 150.0 L420.6 172.0 L421.0 179.0 L422.5 179.0 L423.3 170.0 L423.7 120.0 L424.0 94.2 L424.4 95.0 L425.2 95.0 L426.6 87.4 L427.5 85.0 L427.8 85.0 L427.9 76.3 L428.2 74.3 L428.5 76.3 L428.6 88.0 L429.2 88.0 L429.8 88.0 L430.2 85.4 L430.5 87.4 L430.6 95.0 L431.0 95.0 L431.3 103.0 L431.9 150.0 L432.2 179.0 L432.6 186.0 L432.7 205.2 L433.5 205.2 L434.3 205.2 L434.4 190.1 L434.7 188.1 L435.0 190.1 L435.1 203.0 L436.2 203.0 L437.2 203.6 L438.8 199.5 L440.4 198.5 L441.8 190.0 L442.5 190.0 L442.6 168.2 L442.9 166.2 L443.2 168.2 L443.3 180.0 L443.8 180.0 L444.1 180.0 L444.5 178.6 L445.1 200.0 L445.9 200.0 L447.1 191.2 L447.7 191.2 L447.8 179.1 L448.1 177.1 L448.4 179.1 L448.5 189.0 L449.4 189.0 L450.7 186.0 L451.6 180.0 L451.9 180.0 L452.0 166.1 L452.3 164.1 L452.6 166.1 L452.7 182.0 L453.0 182.0 L453.8 188.1 L455.4 190.2 L457.0 190.2 L457.4 189.7 L457.8 195.4 L459.0 195.4 L459.6 202.1 L460.4 202.1 L460.7 194.8 L461.0 196.8 L461.1 201.6 L462.1 201.6 L463.2 201.6 L463.3 193.2 L463.6 191.2 L464.0 196.4 L465.7 196.4 L467.3 202.6 L468.5 194.8 L469.8 194.8 L470.2 190.7 L470.6 196.0 L471.2 196.0 L471.8 210.4 L472.6 210.4 L474.5 196.4 L475.4 190.0 L475.7 190.0 L475.8 185.8 L476.1 183.8 L476.4 185.8 L476.5 190.0 L477.1 190.0 L477.7 190.0 L478.1 187.7 L478.4 189.7 L478.5 201.6 L479.7 201.6 L481.1 201.6 L481.5 198.0 L481.9 201.6 L482.8 201.6 L483.9 209.3 L484.7 209.3 L485.9 200.5 L487.0 200.5 L487.3 200.0 L487.3 156.0 L488.3 155.5 L489.4 150.0 L490.0 150.0 L490.4 144.2 L490.8 150.0 L491.4 150.0 L492.5 140.0 L493.5 126.5 L494.6 124.0 L495.5 124.0 L495.6 95.1 L495.9 93.1 L496.2 95.1 L496.3 120.0 L497.1 120.0 L498.2 122.3 L498.8 140.0 L499.0 160.0 L500.0 160.0 L500.8 161.0 L501.8 140.0 L502.4 140.0 L502.8 134.3 L503.2 138.5 L503.8 138.5 L504.6 138.0 L505.2 138.0 L505.3 131.7 L505.6 129.7 L505.9 131.7 L506.0 138.0 L506.6 138.0 L507.0 150.0 L507.8 169.2 L508.6 169.2 L509.5 155.0 L510.2 155.0 L510.3 150.8 L510.6 148.8 L510.9 150.8 L511.0 160.0 L511.6 160.0 L512.0 173.3 L512.8 173.3 L513.2 160.0 L513.8 140.0 L514.3 140.0 L514.7 134.8 L515.0 136.8 L515.1 150.0 L515.8 150.0 L515.8 170.0 L516.6 188.0 L517.4 188.0 L518.3 176.0 L519.0 175.0 L519.5 175.0 L519.9 174.8 L520.3 189.0 L521.1 189.0 L521.5 176.0 L522.3 150.0 L523.0 118.0 L523.5 115.5 L525.0 112.0 L525.4 112.0 L525.5 72.4 L525.8 70.4 L526.1 72.4 L526.2 105.0 L526.6 105.0 L527.4 109.3 L528.7 120.7 L530.0 118.0 L530.9 118.0 L531.3 117.1 L531.7 120.0 L532.3 120.0 L532.6 150.0 L533.5 178.0 L534.5 176.0 L535.8 176.0 L536.7 176.0 L536.8 167.0 L537.1 165.0 L537.4 167.0 L537.5 175.0 L538.2 175.0 L539.3 175.0 L539.7 169.7 L540.0 171.7 L540.1 176.0 L540.6 176.0 L541.0 196.0 L542.3 207.0 L543.6 205.0 L544.5 195.0 L544.9 190.0 L545.5 190.0 L545.6 179.1 L545.9 177.1 L546.2 179.1 L546.3 190.0 L546.9 190.0 L547.6 197.0 L549.0 197.8 L550.5 198.0 L551.8 192.0 L552.6 180.7 L553.8 180.0 L554.6 176.0 L555.2 170.2 L556.0 160.0 L556.5 160.0 L556.6 123.0 L556.9 121.0 L557.2 123.0 L557.3 156.0 L557.9 156.0 L558.8 158.8 L559.8 168.0 L561.4 169.2 L562.0 175.0 L562.6 178.0 L563.8 178.0 L564.4 178.0 L564.5 160.8 L564.8 158.8 L565.1 160.8 L565.2 177.0 L565.8 177.0 L566.5 190.0 L568.6 202.5 L569.4 202.5 L569.8 185.0 L570.3 185.0 L570.4 176.3 L570.7 174.3 L571.1 178.0 L571.6 178.0 L572.6 178.0 L573.2 175.0 L573.8 175.0 L573.9 161.1 L574.2 159.1 L574.5 161.1 L574.6 176.0 L575.2 176.0 L575.9 184.0 L576.4 179.1 L576.7 181.1 L576.8 187.5 L577.3 187.5 L578.1 187.5 L578.6 187.5 L578.7 181.7 L579.0 179.7 L579.3 181.7 L579.4 192.1 L580.0 192.1 L580.8 192.1 L581.2 192.1 L581.3 182.2 L581.6 180.2 L582.0 181.0 L582.6 181.0 L583.4 178.0 L584.2 173.8 L585.2 172.0 L585.4 140.0 L586.3 60.0 L586.5 52.7 L586.9 58.0 L587.3 58.0 L587.7 58.0 L587.8 50.2 L588.1 48.2 L588.4 50.2 L588.5 100.0 L588.9 100.0 L589.6 131.0 L590.4 133.0 L591.0 150.0 L591.6 152.0 L593.0 169.5 L593.8 169.5 L594.0 150.0 L594.6 120.0 L595.5 120.0 L595.6 80.2 L595.9 78.2 L596.2 80.2 L596.3 110.0 L597.0 110.0 L597.2 129.5 L598.0 129.5 L598.2 110.0 L598.6 110.0 L598.7 90.2 L599.0 88.2 L599.3 90.2 L599.4 120.0 L600.0 120.0 L600.3 140.0 L601.3 154.0 L601.8 155.0 L602.6 150.0 L603.2 135.0 L603.5 135.0 L603.6 120.8 L603.9 118.8 L604.2 120.8 L604.3 133.0 L604.7 133.0 L605.7 134.6 L606.3 150.0 L607.0 180.0 L608.5 183.0 L609.2 183.0 L609.3 172.7 L609.6 170.7 L609.9 172.7 L610.0 183.0 L610.5 183.0 L611.4 180.0 L611.9 180.0 L612.0 156.1 L612.3 154.1 L612.6 156.1 L612.7 172.0 L613.2 172.0 L613.7 177.0 L615.5 190.0 L616.9 200.5 L617.7 200.5 L618.6 188.0 L619.0 188.0 L619.1 179.4 L619.4 177.4 L619.8 180.0 L620.6 180.0 L621.6 180.0 L621.7 175.8 L622.0 173.8 L622.4 176.0 L623.2 176.0 L624.6 167.6 L625.4 166.0 L625.7 166.0 L625.8 161.8 L626.1 159.8 L626.5 164.0 L627.2 164.0 L628.1 164.0 L628.2 159.0 L628.5 157.0 L628.9 158.0 L629.6 158.0 L630.3 150.0 L630.8 147.8 L631.6 147.0 L632.3 130.0 L632.9 125.8 L633.3 126.0 L634.0 126.0 L634.5 126.0 L634.6 113.5 L634.9 111.5 L635.2 113.5 L635.3 125.0 L635.8 125.0 L636.2 150.0 L637.0 152.0 L637.8 150.0 L638.0 140.0 L638.5 133.3 L639.6 133.0 L640.5 133.0 L640.6 115.1 L640.9 113.1 L641.2 115.1 L641.3 125.0 L641.8 125.0 L642.7 134.0 L643.7 141.5 L644.2 154.0 L645.4 168.1 L646.2 168.1 L646.6 150.0 L646.9 150.0 L647.0 138.4 L647.3 136.4 L647.7 142.0 L648.2 142.0 L648.9 146.0 L649.6 142.0 L650.0 142.0 L650.4 138.5 L650.7 140.5 L650.8 145.0 L651.5 145.0 L651.5 150.0 L652.5 170.0 L653.3 180.5 L654.1 180.5 L655.0 170.0 L655.8 162.0 L656.7 158.8 L657.6 158.0 L658.2 138.0 L658.8 126.8 L659.2 127.0 L659.5 127.0 L659.9 127.0 L660.3 124.3 L660.7 128.0 L661.8 128.0 L662.2 135.4 L663.1 135.4 L663.8 128.0 L664.4 128.0 L664.5 119.6 L664.8 117.6 L665.1 119.6 L665.2 126.0 L665.8 126.0 L666.6 140.0 L666.8 164.0 L667.6 164.0 L667.8 140.0 L668.2 140.0 L668.3 128.4 L668.6 126.4 L669.0 130.0 L669.4 130.0 L670.1 131.9 L671.1 133.0 L671.5 150.0 L672.2 150.0 L672.4 110.0 L672.8 97.8 L673.2 100.0 L673.5 100.0 L673.8 100.0 L674.2 96.5 L674.5 98.5 L674.6 110.0 L675.0 110.0 L675.5 127.0" fill="none" stroke="#ff0000" stroke-width="1.5" stroke-linejoin="miter" stroke-miterlimit="6"/>
<path d="M400.3 133.0L400.7 157.0L400.3 181.0L399.9 157.0ZM436.2 201.0L436.6 208.0L436.2 215.0L435.8 208.0ZM404.6 150.0L405.0 178.0L404.6 206.0L404.2 178.0ZM410.2 150.0L410.6 167.0L410.2 184.0L409.8 167.0ZM409.5 116.0L409.8 121.0L409.5 126.0L409.2 121.0ZM428.9 174.0L429.3 178.0L428.9 182.0L428.5 178.0ZM426.5 100.0L426.8 108.0L426.5 116.0L426.2 108.0ZM489.9 199.0L490.2 207.5L489.9 216.0L489.5 207.5ZM499.7 214.6L500.1 222.0L499.2 222.0L499.7 214.6ZM524.3 190.0L524.7 222.0L523.9 222.0L524.3 190.0ZM530.2 175.0L530.6 190.5L530.2 206.0L529.8 190.5ZM526.5 153.0L526.7 166.0L526.5 179.0L526.3 166.0ZM491.8 150.0L492.0 157.5L491.8 165.0L491.6 157.5ZM561.8 206.0L562.2 222.0L561.4 222.0L561.8 206.0ZM599.5 205.0L600.0 222.0L599.0 222.0L599.5 205.0ZM643.0 178.0L643.2 189.0L643.0 200.0L642.8 189.0ZM664.0 200.0L664.4 222.0L663.6 222.0L664.0 200.0ZM673.7 210.0L674.4 222.0L673.1 222.0L673.7 210.0ZM596.8 150.0L597.0 162.5L596.8 175.0L596.6 162.5ZM598.5 152.0L598.7 165.0L598.5 178.0L598.3 165.0ZM637.5 153.0L637.8 164.0L637.5 175.0L637.2 164.0ZM648.5 152.0L648.7 162.0L648.5 172.0L648.3 162.0ZM398.3 158.2L398.6 166.1L398.3 174.1L398.0 166.1ZM415.0 172.1L415.2 187.4L415.0 202.7L414.8 187.4ZM417.8 178.8L418.0 199.9L417.8 221.0L417.6 199.9ZM442.4 185.9L442.6 203.5L442.4 221.0L442.2 203.5ZM487.5 180.3L487.8 192.4L487.5 204.6L487.3 192.4ZM494.5 180.2L494.7 200.6L494.5 221.0L494.3 200.6ZM502.4 190.0L502.6 205.5L502.4 221.0L502.2 205.5ZM507.3 167.9L507.6 182.8L507.3 197.7L507.1 182.8ZM510.3 179.1L510.6 184.1L510.3 189.1L510.0 184.1ZM514.7 173.4L514.9 197.2L514.7 221.0L514.5 197.2ZM519.0 197.8L519.2 209.4L519.0 221.0L518.8 209.4ZM528.5 157.2L528.7 178.5L528.5 199.8L528.3 178.5ZM532.8 188.2L533.0 204.6L532.8 221.0L532.5 204.6ZM536.0 191.8L536.2 206.4L536.0 221.0L535.9 206.4ZM539.8 182.8L539.9 189.9L539.8 196.9L539.6 189.9ZM558.5 168.9L558.8 184.6L558.5 200.3L558.3 184.6ZM587.5 167.3L587.7 175.2L587.5 183.2L587.3 175.2ZM590.7 160.7L590.9 177.3L590.7 193.9L590.4 177.3ZM593.9 160.6L594.1 175.5L593.9 190.4L593.7 175.5ZM602.8 185.0L603.0 202.4L602.8 219.8L602.5 202.4ZM609.7 204.4L610.0 212.7L609.7 221.0L609.4 212.7ZM621.3 187.2L621.5 204.1L621.3 221.0L621.2 204.1ZM624.1 184.4L624.3 192.7L624.1 200.9L623.9 192.7ZM626.8 170.6L627.0 178.5L626.8 186.5L626.6 178.5ZM630.3 159.1L630.6 185.8L630.3 212.5L630.0 185.8ZM633.3 148.8L633.5 161.9L633.3 174.9L633.0 161.9ZM640.8 189.4L641.0 205.2L640.8 221.0L640.6 205.2ZM646.4 175.3L646.7 186.2L646.4 197.1L646.2 186.2ZM652.1 202.2L652.3 211.6L652.1 221.0L651.9 211.6ZM656.0 170.3L656.3 188.0L656.0 205.7L655.7 188.0ZM660.7 174.8L660.9 185.6L660.7 196.4L660.4 185.6ZM668.1 171.0L668.3 195.2L668.1 219.5L667.9 195.2ZM671.2 187.8L671.5 204.4L671.2 221.0L671.0 204.4ZM406.23 98.0L406.77 98.0L406.77 120.8L406.50 122.0L406.23 120.8ZM414.73 156.0L415.27 156.0L415.27 161.8L415.00 163.0L414.73 161.8ZM417.03 170.0L417.57 170.0L417.57 175.8L417.30 177.0L417.03 175.8ZM432.83 186.1L433.38 186.1L433.38 204.5L433.10 205.7L432.83 204.5ZM445.20 189.2L445.80 189.2L445.80 199.3L445.50 200.5L445.20 199.3ZM459.73 193.4L460.27 193.4L460.27 201.4L460.00 202.6L459.73 201.4ZM461.65 192.8L462.55 192.8L462.55 200.4L462.10 201.6L461.65 200.4ZM466.90 194.4L467.70 194.4L467.70 201.4L467.30 202.6L466.90 201.4ZM471.55 194.4L472.85 194.4L472.85 209.7L472.20 210.9L471.55 209.7ZM483.75 199.6L484.85 199.6L484.85 208.6L484.30 209.8L483.75 208.6ZM491.12 142.2L491.67 142.2L491.67 148.8L491.40 150.0L491.12 148.8ZM507.93 153.0L508.47 153.0L508.47 168.5L508.20 169.7L507.93 168.5ZM512.12 158.0L512.67 158.0L512.67 172.6L512.40 173.8L512.12 172.6ZM516.73 174.0L517.27 174.0L517.27 187.3L517.00 188.5L516.73 187.3ZM520.43 174.0L520.98 174.0L520.98 188.3L520.70 189.5L520.43 188.3ZM537.90 167.7L538.50 167.7L538.50 173.8L538.20 175.0L537.90 173.8ZM568.35 188.0L569.65 188.0L569.65 201.8L569.00 203.0L568.35 201.8ZM575.62 177.1L576.17 177.1L576.17 182.8L575.90 184.0L575.62 182.8ZM577.40 177.7L578.00 177.7L578.00 186.8L577.70 188.0L577.40 186.8ZM580.10 178.2L580.70 178.2L580.70 191.4L580.40 192.6L580.10 191.4ZM587.02 50.7L587.57 50.7L587.57 56.8L587.30 58.0L587.02 56.8ZM593.12 150.0L593.67 150.0L593.67 168.8L593.40 170.0L593.12 168.8ZM597.33 108.0L597.88 108.0L597.88 128.8L597.60 130.0L597.33 128.8ZM616.75 188.0L617.85 188.0L617.85 199.8L617.30 201.0L616.75 199.8ZM626.93 157.8L627.48 157.8L627.48 162.8L627.20 164.0L626.93 162.8ZM645.52 152.0L646.07 152.0L646.07 167.4L645.80 168.6L645.52 167.4ZM653.43 168.0L653.98 168.0L653.98 179.8L653.70 181.0L653.43 179.8ZM666.93 138.0L667.48 138.0L667.48 163.3L667.20 164.5L666.93 163.3ZM399.2 213.6L400.2 222.0L398.1 222.0ZM402.6 210.5L404.9 222.0L400.7 222.0ZM409.5 183.0L410.4 196.0L413.2 209.0L415.7 222.0L407.0 222.0L407.3 196.0ZM420.2 211.5L421.4 222.0L419.4 222.0ZM422.4 211.5L423.0 222.0L421.9 222.0ZM427.1 200.0L430.0 205.0L433.9 222.0L424.5 222.0L425.5 205.0ZM441.2 213.0L441.9 222.0L440.4 222.0ZM494.2 172.0L495.4 172.0L495.6 196.0L496.1 222.0L489.9 222.0L493.0 210.0L494.0 196.0ZM503.5 183.0L504.2 215.0L507.4 222.0L502.8 222.0L503.0 200.0ZM528.2 206.4L530.0 203.0L530.8 206.0L532.8 222.0L526.1 222.0ZM535.0 206.0L536.6 222.0L533.5 222.0ZM587.2 135.0L588.6 135.0L588.9 196.0L589.5 215.0L592.0 222.0L586.8 222.0L586.8 196.0ZM642.7 199.0L643.6 200.0L644.8 211.0L646.8 209.0L647.9 216.0L648.3 222.0L640.1 222.0L640.1 213.0L641.6 210.0ZM397.8 218.9L399.2 222.5L396.4 222.5ZM401.1 217.1L402.2 222.5L400.0 222.5ZM403.7 214.2L404.7 222.5L402.7 222.5ZM407.1 218.2L408.7 222.5L405.5 222.5ZM411.2 219.6L412.8 222.5L409.6 222.5ZM417.0 216.2L418.0 222.5L416.0 222.5ZM420.3 215.2L421.3 222.5L419.3 222.5ZM425.0 219.4L426.5 222.5L423.5 222.5ZM429.2 217.9L430.6 222.5L427.7 222.5ZM432.0 218.0L433.5 222.5L430.4 222.5ZM437.2 218.5L438.4 222.5L436.0 222.5ZM440.3 218.7L441.4 222.5L439.3 222.5ZM445.6 219.8L446.7 222.5L444.5 222.5ZM449.5 219.7L450.9 222.5L448.2 222.5ZM452.6 214.8L453.5 222.5L451.7 222.5ZM458.3 218.8L459.2 222.5L457.4 222.5ZM463.7 219.9L465.0 222.5L462.4 222.5ZM467.4 217.3L468.3 222.5L466.5 222.5ZM470.0 219.8L471.3 222.5L468.6 222.5ZM474.3 219.6L475.5 222.5L473.2 222.5ZM479.9 219.0L480.8 222.5L478.9 222.5ZM483.2 215.8L484.2 222.5L482.2 222.5ZM487.8 215.6L488.9 222.5L486.7 222.5ZM490.8 219.5L491.8 222.5L489.7 222.5ZM494.9 217.5L496.4 222.5L493.3 222.5ZM498.8 219.5L500.0 222.5L497.6 222.5ZM503.2 217.1L504.0 222.5L502.4 222.5ZM507.2 215.1L508.0 222.5L506.4 222.5ZM512.5 215.0L513.7 222.5L511.3 222.5ZM517.6 217.3L518.6 222.5L516.5 222.5ZM521.9 217.3L523.3 222.5L520.5 222.5ZM524.7 217.4L525.7 222.5L523.8 222.5ZM528.2 218.6L529.4 222.5L527.0 222.5ZM532.7 218.6L534.2 222.5L531.2 222.5ZM536.7 217.7L537.9 222.5L535.5 222.5ZM541.0 218.2L542.2 222.5L539.9 222.5ZM545.4 216.9L546.9 222.5L543.8 222.5ZM550.3 219.3L551.9 222.5L548.8 222.5ZM553.8 217.4L555.3 222.5L552.2 222.5ZM559.2 214.8L560.1 222.5L558.3 222.5ZM563.2 214.4L564.2 222.5L562.2 222.5ZM566.0 218.0L567.4 222.5L564.6 222.5ZM571.6 214.9L573.0 222.5L570.3 222.5ZM576.4 214.9L578.0 222.5L574.9 222.5ZM582.3 215.3L583.9 222.5L580.8 222.5ZM586.2 216.9L587.8 222.5L584.6 222.5ZM591.6 215.0L592.8 222.5L590.5 222.5ZM595.9 216.0L596.9 222.5L595.0 222.5ZM599.6 218.3L600.4 222.5L598.7 222.5ZM604.0 216.6L604.8 222.5L603.2 222.5ZM607.7 217.7L608.9 222.5L606.4 222.5ZM610.4 219.9L611.8 222.5L609.0 222.5ZM616.3 214.6L617.3 222.5L615.3 222.5ZM618.9 218.7L619.9 222.5L617.9 222.5ZM621.9 216.5L623.4 222.5L620.3 222.5ZM627.2 215.6L628.2 222.5L626.3 222.5ZM633.0 217.4L634.3 222.5L631.6 222.5ZM635.8 214.3L637.1 222.5L634.4 222.5ZM639.8 214.4L641.3 222.5L638.2 222.5ZM644.5 218.8L645.3 222.5L643.6 222.5ZM650.0 214.4L651.5 222.5L648.5 222.5ZM654.1 216.0L655.3 222.5L652.8 222.5ZM659.8 215.6L660.7 222.5L658.9 222.5ZM664.2 215.4L665.0 222.5L663.3 222.5ZM667.2 214.3L668.2 222.5L666.3 222.5ZM670.8 215.8L672.2 222.5L669.4 222.5ZM674.3 217.0L675.3 222.5L673.4 222.5Z" fill="#fff" stroke="none"/>
<path d="M395.7 222.50H676.1" stroke="#383838" stroke-width="1.2"/>
<text class="t" x="396.3" y="233.3" text-anchor="middle">0</text>
<text class="t" x="466.1" y="233.3" text-anchor="middle">500</text>
<text class="t" x="535.9" y="233.3" text-anchor="middle">1000</text>
<text class="t" x="605.7" y="233.3" text-anchor="middle">1500</text>
<text class="t" x="675.5" y="233.3" text-anchor="middle">2000</text>
<text class="t" x="394.5" y="6.3" text-anchor="end">700</text>
<text class="t" x="394.5" y="37.7" text-anchor="end">600</text>
<text class="t" x="394.5" y="69.1" text-anchor="end">500</text>
<text class="t" x="394.5" y="100.5" text-anchor="end">400</text>
<text class="t" x="394.5" y="131.9" text-anchor="end">300</text>
<text class="t" x="394.5" y="163.3" text-anchor="end">200</text>
<text class="t" x="394.5" y="194.7" text-anchor="end">100</text>
<text class="t" x="394.5" y="226.1" text-anchor="end">0</text>
<text class="l" x="536" y="244.6" text-anchor="middle">Time (days)</text>
<text class="l" style="font-size:10.22px" transform="translate(373.9 112.55) rotate(-90)" text-anchor="middle">Absolute Error − I(t)</text>
</g>
<text class="c" x="161" y="275.8" text-anchor="middle">(a) HBV Infected Population</text>
<text class="c" x="526.3" y="275.8" text-anchor="middle">(b) Absolute Error</text>
</svg></body></html>
